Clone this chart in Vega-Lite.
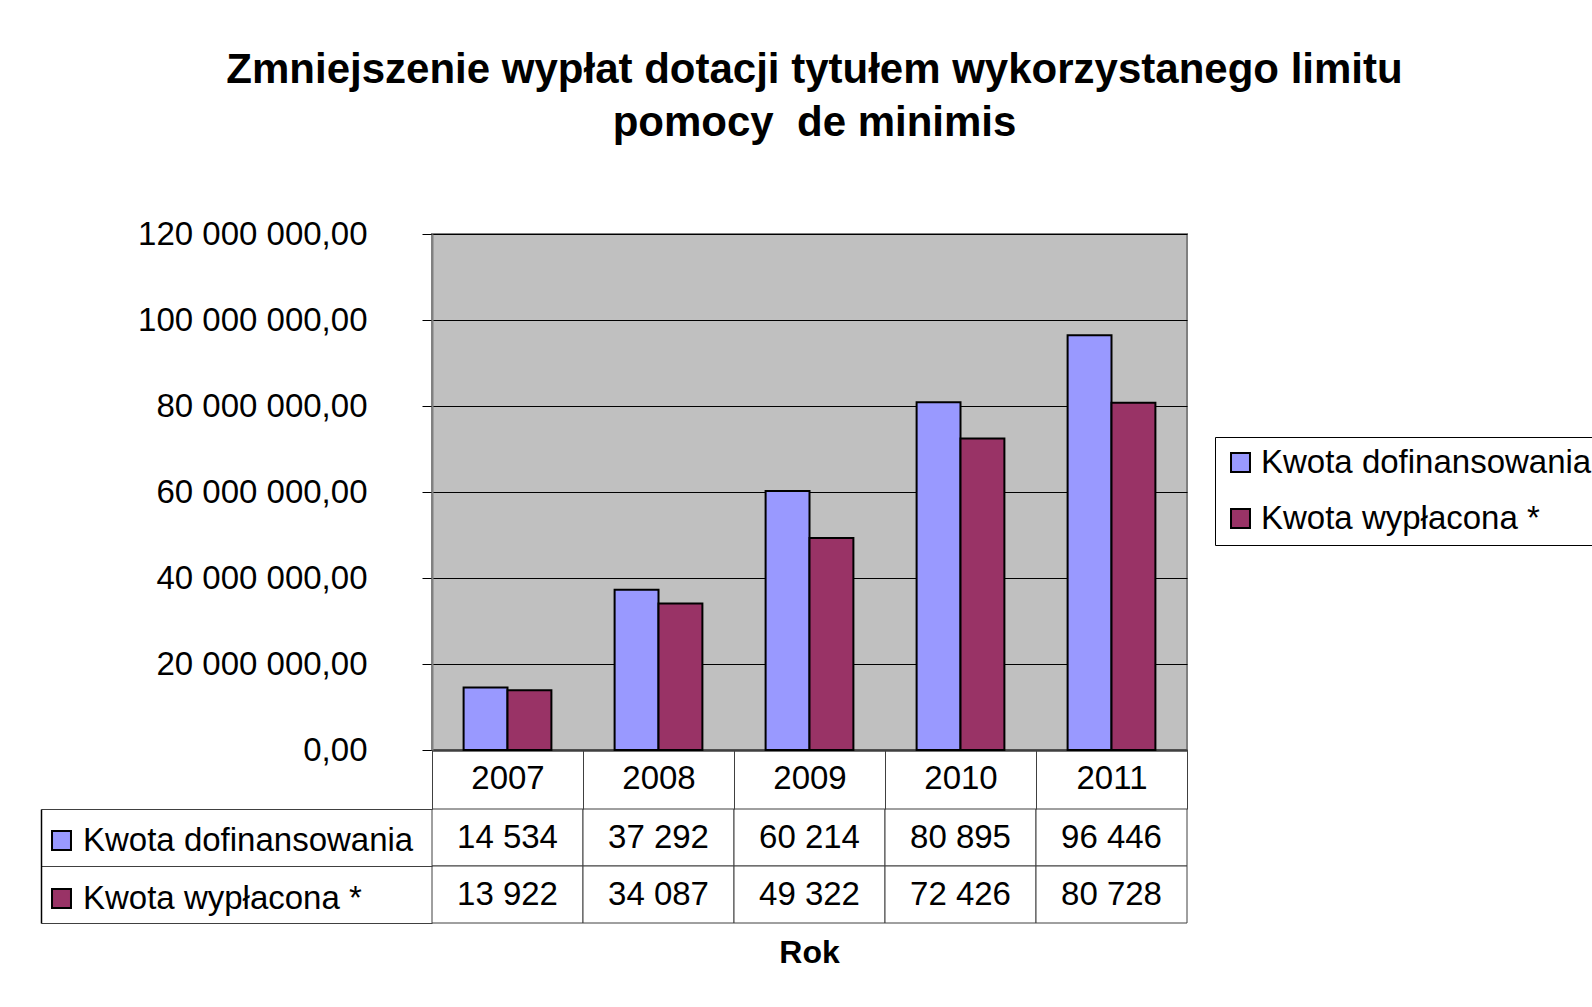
{
  "$schema": "https://vega.github.io/schema/vega-lite/v6.json",
  "padding": {"left": 40, "top": 48, "right": 0, "bottom": 10},
  "background": "white",
  "config": {
    "font": "Liberation Sans",
    "locale": {"number": {"decimal": ",", "thousands": " ", "grouping": [3], "currency": ["", " zł"]}},
    "view": {"stroke": null}
  },
  "datasets": {
    "d": [
      {"rok": "2007", "seria": "Kwota dofinansowania", "kwota": 14534},
      {"rok": "2007", "seria": "Kwota wypłacona *", "kwota": 13922},
      {"rok": "2008", "seria": "Kwota dofinansowania", "kwota": 37292},
      {"rok": "2008", "seria": "Kwota wypłacona *", "kwota": 34087},
      {"rok": "2009", "seria": "Kwota dofinansowania", "kwota": 60214},
      {"rok": "2009", "seria": "Kwota wypłacona *", "kwota": 49322},
      {"rok": "2010", "seria": "Kwota dofinansowania", "kwota": 80895},
      {"rok": "2010", "seria": "Kwota wypłacona *", "kwota": 72426},
      {"rok": "2011", "seria": "Kwota dofinansowania", "kwota": 96446},
      {"rok": "2011", "seria": "Kwota wypłacona *", "kwota": 80728}
    ]
  },
  "bounds": "flush",
  "spacing": 59,
  "resolve": {"legend": {"color": "independent"}},
  "vconcat": [
    {
      "width": 755,
      "height": 516,
      "title": {
        "text": ["Zmniejszenie wypłat dotacji tytułem wykorzystanego limitu", "pomocy \u00a0de minimis"],
        "fontSize": 42, "fontWeight": "bold", "lineHeight": 53, "anchor": "middle", "frame": "group",
        "dx": 5, "offset": 73, "color": "black"
      },
      "view": {"fill": "#C0C0C0", "stroke": "#808080", "strokeWidth": 2},
      "data": {"name": "d"},
      "mark": {"type": "bar", "stroke": "black", "strokeWidth": 2},
      "encoding": {
        "x": {
          "field": "rok", "type": "nominal",
          "scale": {"paddingInner": 0, "paddingOuter": 0},
          "axis": {"labels": false, "ticks": false, "title": null, "domainColor": "#404040", "domainWidth": 2.5}
        },
        "xOffset": {"field": "seria", "type": "nominal", "scale": {"paddingInner": 0, "paddingOuter": 0.72}},
        "y": {
          "field": "kwota", "type": "quantitative",
          "scale": {"domain": [0, 120000], "nice": false},
          "axis": {
            "values": [0, 20000, 40000, 60000, 80000, 100000, 120000],
            "labelExpr": "format(datum.value * 1000, ',.2f')",
            "labelFontSize": 33, "labelColor": "black", "labelPadding": 55, "labelLimit": 0,
            "tickSize": 10, "tickColor": "black", "tickWidth": 1,
            "gridColor": "black", "gridWidth": 1, "gridOpacity": 1,
            "domainColor": "#808080", "domainWidth": 2, "title": null
          }
        },
        "color": {
          "field": "seria", "type": "nominal",
          "scale": {"domain": ["Kwota dofinansowania", "Kwota wypłacona *"], "range": ["#9999FF", "#993366"]},
          "legend": {
            "orient": "none", "legendX": 783, "legendY": 203, "title": null,
            "strokeColor": "black", "fillColor": "white", "padding": 9, "cornerRadius": 0,
            "symbolType": "square", "symbolSize": 360, "symbolStrokeColor": "black", "symbolStrokeWidth": 2, "symbolOpacity": 1,
            "labelFontSize": 33, "labelColor": "black", "labelLimit": 0, "labelOffset": 4, "rowPadding": 22
          }
        }
      }
    },
    {
      "width": 755,
      "height": 114,
      "title": {
        "text": "Rok", "orient": "bottom", "anchor": "middle", "frame": "group",
        "fontSize": 32, "fontWeight": "bold", "offset": 14, "color": "black"
      },
      "data": {"name": "d"},
      "encoding": {
        "x": {
          "field": "rok", "type": "nominal",
          "scale": {"paddingInner": 0, "paddingOuter": 0},
          "axis": {
            "orient": "top", "title": null, "domain": false, "tickBand": "extent", "tickSize": 59,
            "tickColor": "#404040", "tickWidth": 1, "labelFontSize": 33, "labelColor": "black",
            "labelPadding": -38, "labelBaseline": "alphabetic", "labelAngle": 0
          }
        },
        "y": {
          "field": "seria", "type": "nominal",
          "scale": {"paddingInner": 0, "paddingOuter": 0},
          "axis": {
            "title": null, "labels": false, "offset": 391, "tickBand": "extent", "tickSize": -391,
            "tickColor": "#404040", "tickWidth": 1, "domainColor": "black", "domainWidth": 1.5
          }
        }
      },
      "layer": [
        {"mark": {"type": "rect", "fill": "white", "stroke": "#404040", "strokeWidth": 1}},
        {
          "mark": {"type": "text", "fontSize": 33, "color": "black"},
          "encoding": {"text": {"field": "kwota", "type": "quantitative", "format": ",.0f"}}
        },
        {
          "mark": {"type": "square", "opacity": 0},
          "encoding": {
            "color": {
              "field": "seria", "type": "nominal",
              "legend": {
                "orient": "none", "legendX": -387, "legendY": 15, "title": null, "padding": 0,
                "symbolType": "square", "symbolSize": 360, "symbolStrokeColor": "black", "symbolStrokeWidth": 2, "symbolOpacity": 1,
                "labelFontSize": 33, "labelColor": "black", "labelLimit": 0, "labelOffset": 5, "rowPadding": 24
              }
            }
          }
        }
      ]
    }
  ]
}
